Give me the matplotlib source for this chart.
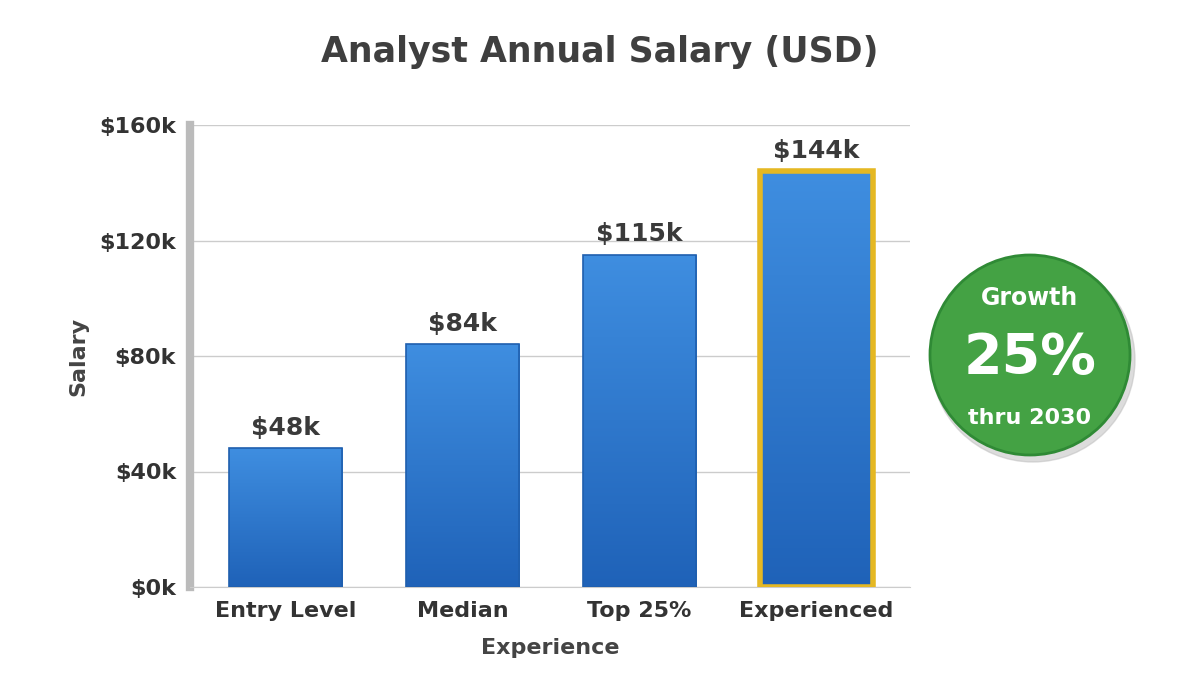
import matplotlib
matplotlib.use("Agg")
import matplotlib.pyplot as plt
import numpy as np
from matplotlib.patches import Circle

categories = ["Entry Level", "Median", "Top 25%", "Experienced"]
values = [48, 84, 115, 144]
labels = ["$48k", "$84k", "$115k", "$144k"]
yticks = [0, 40, 80, 120, 160]

plt.rcParams['font.family'] = ['DejaVu Sans']
fig = plt.figure(figsize=(12, 6.92), dpi=100)
fig.patch.set_facecolor("white")
ax = fig.add_axes([190/1200, 1-587/692, 720/1200, 462/692])
ax.set_xlim(-0.54, 3.53)
ax.set_ylim(0, 160)

x = np.arange(len(categories))
w = 0.64
grad = np.linspace(0, 1, 256).reshape(-1, 1)
cmap = matplotlib.colors.LinearSegmentedColormap.from_list("b", ["#3f8ee0", "#1f62b8"])
for i, v in enumerate(values):
    bars = ax.bar(x[i], v, width=w, color="#2f74c9", linewidth=0, zorder=3)
    im = ax.imshow(grad, extent=[x[i]-w/2, x[i]+w/2, 0, v], aspect="auto", cmap=cmap, zorder=3.5)
    im.set_clip_path(bars[0])
    edge = "#e5b823" if i == 3 else "#1f5fae"
    lw = 4 if i == 3 else 1.2
    ax.bar(x[i], v, width=w, fill=False, edgecolor=edge, linewidth=lw, zorder=4)
    ax.text(x[i], v + 3, labels[i], ha="center", va="bottom", fontsize=18,
            fontweight="bold", color="#3a3a3a", zorder=5)

ax.set_yticks(yticks)
ax.set_yticklabels([f"${t}k" for t in yticks], fontsize=16, fontweight="bold", color="#333333")
ax.set_xticks(x)
ax.set_xticklabels(categories, fontsize=16, fontweight="bold", color="#333333")
ax.tick_params(length=0, pad=10)
ax.yaxis.grid(True, color="#cccccc", linewidth=1)
ax.set_axisbelow(True)
for s in ["top", "right"]:
    ax.spines[s].set_visible(False)
ax.spines["left"].set_color("#bbbbbb")
ax.spines["left"].set_linewidth(6)
ax.spines["bottom"].set_color("#cccccc")
ax.set_xlabel("Experience", fontsize=16, fontweight="bold", color="#444444", labelpad=12)
ax.set_ylabel("Salary", fontsize=16, fontweight="bold", color="#444444", labelpad=8)

fig.text(0.5, 1-52/692, "Analyst Annual Salary (USD)", ha="center", va="center",
         fontsize=25, fontweight="bold", color="#3f3f3f")

cax = fig.add_axes([0, 0, 1, 1], zorder=10)
cax.set_xlim(0, 1200); cax.set_ylim(692, 0); cax.axis("off")
cax.add_patch(Circle((1033, 360), 102, color="#bbbbbb", alpha=0.5))
cax.add_patch(Circle((1030, 355), 100, facecolor="#44a244", edgecolor="#2f8a35", linewidth=2))
cax.text(1030, 298, "Growth", ha="center", va="center", fontsize=17, fontweight="bold", color="white")
cax.text(1030, 358, "25%", ha="center", va="center", fontsize=40, fontweight="bold", color="white")
cax.text(1030, 418, "thru 2030", ha="center", va="center", fontsize=16, fontweight="bold", color="white")

fig.savefig("out.png", dpi=100)
